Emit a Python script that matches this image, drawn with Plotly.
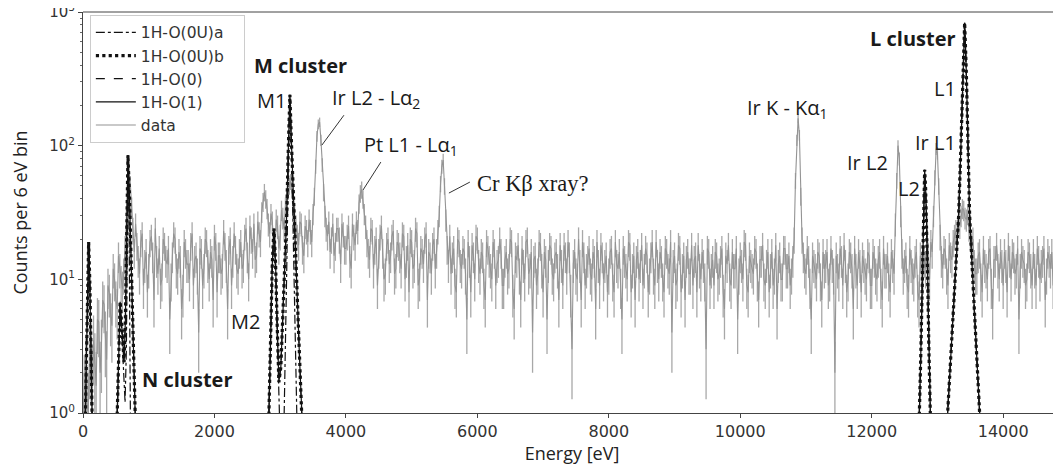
import numpy as np
import plotly.graph_objects as go

# ---------------- data ----------------
# measured spectrum (counts per 6 eV bin), read off the picture on a 20 eV grid:
# data_counts_even at 0, 40, 80, ... 14880 eV; data_counts_odd at 20, 60, ... 14860 eV
energy_step = 40
data_counts_even = [
    1.0, 2.2, 1.0, 2.8, 3.5, 1.6, 4.8, 3.2, 6.5, 2.5, 8.0, 4.5, 10, 6.0, 12, 8.5, 17, 40, 52, 24,
    26, 14, 19, 9, 16, 12, 21, 7, 14, 17, 10, 18, 13, 5, 15, 20, 11, 14, 8, 16,
    13, 18, 9, 15, 4, 16, 12, 19, 10, 14, 21, 8, 15, 12, 18, 6, 20, 14, 17, 11,
    19, 13, 24, 10, 20, 26, 15, 22, 32, 45, 34, 22, 27, 16, 25, 21, 29, 35, 46, 54,
    40, 25, 18, 26, 15, 23, 28, 19, 42, 118, 150, 72, 30, 21, 16, 26, 18, 24, 13, 22,
    17, 25, 12, 21, 27, 37, 47, 31, 19, 14, 23, 17, 9, 21, 16, 11, 20, 15, 23, 12,
    18, 12, 21, 14, 8, 19, 13, 22, 10, 16, 20, 7, 15, 18, 12, 23, 52, 78, 28, 13,
    11, 17, 8, 19, 12, 16, 5, 14, 18, 10, 20, 11, 15, 7, 17, 12, 19, 9, 14, 16,
    9, 16, 12, 19, 6, 14, 11, 17, 10, 20, 12, 4, 15, 11, 18, 8, 14, 13, 17, 10,
    16, 7, 13, 18, 11, 15, 3, 16, 10, 13, 19, 9, 14, 11, 16, 6, 13, 18, 10, 15,
    11, 17, 8, 13, 16, 5, 14, 10, 18, 12, 7, 16, 13, 9, 17, 8, 15, 11, 19, 10,
    14, 8, 16, 11, 4, 15, 10, 17, 12, 7, 16, 11, 9, 15, 18, 10, 13, 3, 16, 12,
    9, 15, 11, 17, 6, 13, 10, 16, 12, 5, 15, 10, 18, 8, 13, 11, 16, 7, 14, 10,
    13, 8, 16, 11, 6, 15, 10, 17, 12, 9, 14, 55, 160, 42, 15, 11, 14, 5, 13, 10,
    15, 7, 12, 16, 10, 13, 2, 12, 17, 9, 13, 10, 15, 6, 12, 16, 8, 13, 10, 15,
    9, 14, 10, 16, 7, 12, 15, 8, 13, 26, 100, 30, 11, 15, 8, 13, 10, 16, 7, 12,
    14, 17, 10, 16, 58, 88, 21, 12, 16, 9, 15, 19, 23, 27, 30, 33, 28, 24, 17, 13,
    11, 16, 8, 13, 10, 17, 6, 14, 12, 16, 9, 13, 18, 10, 15, 12, 5, 16, 13, 10,
    15, 9, 12, 17, 10, 14, 7, 16, 12, 9, 15, 11, 13,
]
data_counts_odd = [
    1.5, 1.2, 3.0, 1.8, 2.4, 5.0, 2.0, 7.0, 3.8, 9.0, 5.5, 12, 7.0, 15, 9.5, 11, 28, 48, 35, 16,
    18, 11, 22, 13, 8, 19, 15, 24, 11, 9, 20, 14, 17, 10, 22, 12, 16, 6, 19, 13,
    10, 22, 14, 11, 17, 9, 20, 13, 16, 7, 18, 15, 11, 23, 13, 17, 9, 22, 12, 16,
    12, 21, 15, 25, 16, 14, 27, 19, 38, 40, 26, 31, 19, 28, 17, 33, 24, 41, 50, 47,
    30, 21, 27, 17, 25, 19, 23, 31, 70, 145, 110, 45, 24, 27, 20, 15, 24, 20, 26, 17,
    21, 14, 26, 18, 23, 44, 40, 25, 16, 24, 12, 20, 16, 25, 10, 18, 13, 21, 11, 19,
    15, 22, 10, 18, 20, 12, 24, 9, 17, 13, 22, 16, 11, 20, 16, 30, 70, 50, 17, 21,
    15, 9, 20, 13, 17, 11, 19, 8, 15, 21, 13, 16, 9, 19, 14, 10, 16, 13, 20, 9,
    14, 11, 20, 8, 15, 18, 7, 13, 19, 11, 16, 14, 9, 19, 12, 16, 5, 18, 11, 15,
    12, 18, 9, 15, 19, 8, 13, 11, 20, 7, 15, 12, 17, 10, 14, 19, 9, 15, 13, 8,
    16, 10, 19, 12, 9, 17, 12, 19, 8, 15, 14, 10, 18, 12, 15, 11, 19, 9, 13, 16,
    10, 17, 12, 19, 13, 9, 18, 8, 15, 14, 11, 18, 14, 8, 12, 16, 10, 17, 9, 14,
    16, 10, 14, 8, 15, 18, 9, 12, 17, 11, 13, 19, 9, 15, 12, 17, 10, 14, 18, 9,
    16, 12, 9, 18, 13, 10, 17, 12, 15, 11, 20, 110, 120, 20, 12, 17, 9, 15, 12, 16,
    10, 16, 13, 9, 17, 11, 15, 10, 14, 18, 8, 16, 12, 17, 9, 13, 15, 11, 16, 9,
    16, 11, 14, 9, 17, 12, 10, 16, 11, 55, 80, 16, 13, 9, 17, 11, 14, 8, 15, 11,
    12, 15, 19, 30, 95, 50, 14, 17, 11, 18, 14, 21, 19, 25, 34, 29, 31, 21, 20, 11,
    15, 10, 17, 12, 16, 9, 14, 18, 10, 13, 16, 8, 14, 16, 11, 17, 12, 14, 9, 16,
    12, 16, 9, 14, 13, 17, 11, 14, 16, 10, 13, 15,
]

# model fits (N, M, L clusters); None separates the peaks
model_b_energy = [25, 45, 65, 86, 105, 125, 145, None,
                  505, 520, 540, 565, 590, 625, 645, 665, 684, 705, 730, 760, 790, 810, None,
                  2815, 2830, 2855, 2880, 2905, 2930, 2955, 2980, 3010, 3040, 3070, 3100, 3125, 3148, 3170, 3210, 3240, 3270, 3300, 3330, 3350, None,
                  12700, 12725, 12745, 12765, 12780, 12795, 12806, 12820, 12835, 12852, 12870, 12885, 12905, None,
                  13130, 13156, 13200, 13247, 13290, 13323, 13360, 13390, 13414, 13440, 13465, 13490, 13530, 13566, 13610, 13642, 13665]
model_b_counts = [0.5, 2, 9, 19, 9, 2.5, 0.6, None,
                  0.5, 1, 3.5, 6.8, 4.5, 2.4, 5, 30, 85, 45, 14, 3.5, 1, 0.5, None,
                  0.5, 1, 4.5, 13, 24, 13, 4.5, 1.7, 2.2, 5.6, 15, 31, 100, 240, 110, 31, 13, 5.6, 2.2, 1, 0.5, None,
                  0.5, 1, 2.5, 8, 20, 45, 66, 48, 28, 10, 3, 1, 0.5, None,
                  0.6, 1, 2.2, 5.4, 13, 30, 110, 350, 830, 350, 110, 30, 12, 5.4, 2.2, 1, 0.6]

model_0_energy = model_b_energy
model_0_counts = [0.5, 2, 9, 19, 9, 2.5, 0.6, None,
                  0.5, 1, 3.4, 6.6, 4.4, 2.4, 5, 29, 84, 44, 14, 3.5, 1, 0.5, None,
                  0.5, 1, 4.4, 13, 23, 13, 4.4, 1.7, 2.2, 5.5, 15, 31, 98, 238, 108, 31, 13, 5.5, 2.2, 1, 0.5, None,
                  0.5, 1, 2.5, 8, 20, 45, 65, 48, 28, 10, 3, 1, 0.5, None,
                  0.6, 1, 2.2, 5.4, 13, 30, 110, 345, 825, 345, 110, 30, 12, 5.4, 2.2, 1, 0.6]

model_1_energy = model_b_energy
model_1_counts = [0.5, 2, 9, 19, 9, 2.5, 0.6, None,
                  0.5, 1, 3.5, 6.8, 4.5, 2.4, 5, 30, 85, 45, 14, 3.5, 1, 0.5, None,
                  0.5, 1, 4.5, 13, 24, 13, 4.5, 1.7, 2.2, 5.6, 15, 31, 100, 240, 110, 31, 13, 5.6, 2.2, 1, 0.5, None,
                  0.5, 1, 2.5, 8, 20, 45, 66, 48, 28, 10, 3, 1, 0.5, None,
                  0.6, 1, 2.2, 5.4, 13, 30, 110, 350, 830, 350, 110, 30, 12, 5.4, 2.2, 1, 0.6]

model_a_energy = [25, 45, 65, 86, 105, 125, 145, None,
                  505, 520, 540, 565, 590, 615, 640, 660, 672, 684, 700, 712, 725, None,
                  2815, 2830, 2855, 2880, 2905, 2930, 2955, 2980, 3005, 3050, 3075, 3100, 3125, 3148, 3175, 3210, 3240, 3265, None,
                  12700, 12725, 12745, 12765, 12780, 12795, 12806, 12820, 12835, 12852, 12870, 12885, 12905, None,
                  13130, 13156, 13200, 13247, 13290, 13323, 13360, 13390, 13414, 13440, 13465, 13490, 13530, 13566, 13610, 13642, 13665]
model_a_counts = [0.5, 2, 9, 19, 9, 2.5, 0.6, None,
                  0.5, 1, 3.3, 6.4, 4.0, 2.2, 1.2, 3, 30, 85, 30, 3, 0.5, None,
                  0.5, 1, 4.4, 13, 23, 12, 4, 1.3, 0.5, 0.5, 2, 12, 80, 240, 80, 12, 2, 0.5, None,
                  0.5, 1, 2.5, 8, 20, 45, 66, 48, 28, 10, 3, 1, 0.5, None,
                  0.6, 1, 2.2, 5.4, 13, 30, 110, 350, 830, 350, 110, 30, 12, 5.4, 2.2, 1, 0.6]

y_tick_vals = [1, 10, 100, 1000]
y_tick_text = ["10<sup>0</sup>", "10<sup>1</sup>", "10<sup>2</sup>", "10<sup>3</sup>"]
y_minor_vals = [2, 3, 4, 5, 6, 7, 8, 9, 20, 30, 40, 50, 60, 70, 80, 90, 200, 300, 400, 500, 600, 700, 800, 900]
x_tick_vals = [0, 2000, 4000, 6000, 8000, 10000, 12000, 14000]
x_tick_text = ["0", "2000", "4000", "6000", "8000", "10000", "12000", "14000"]

# ---------------- combine the two read-off grids into one series ----------------
data_energy, data_counts = [], []
for i, c in enumerate(data_counts_even):
    data_energy.append(i * energy_step)
    data_counts.append(c)
    if i < len(data_counts_odd):
        data_energy.append(i * energy_step + energy_step // 2)
        data_counts.append(data_counts_odd[i])

# ---------------- figure ----------------
fig = go.Figure()

pad = "\u00a0\u00a0\u00a0"
data_err = np.sqrt(np.array(data_counts, dtype=float))
fig.add_trace(go.Scatter(
    x=data_energy, y=data_counts, mode="lines", name="data" + pad, legendrank=5, legendgroup="g5",
    line=dict(color="rgb(148,148,148)", width=1.1),
    error_y=dict(type="data", array=data_err, visible=True, color="rgb(168,168,168)", thickness=1.3, width=0),
))

black = "#111111"
fig.add_trace(go.Scatter(x=model_1_energy, y=model_1_counts, mode="lines", name="1H-O(1)" + pad, legendrank=4,
                         legendgroup="g4", line=dict(color=black, width=1.2, dash="solid")))
fig.add_trace(go.Scatter(x=model_0_energy, y=model_0_counts, mode="lines", name="1H-O(0)" + pad, legendrank=3,
                         legendgroup="g3", line=dict(color=black, width=1.2, dash="dash")))
fig.add_trace(go.Scatter(x=model_a_energy, y=model_a_counts, mode="lines", name="1H-O(0U)a" + pad, legendrank=1,
                         legendgroup="g1", line=dict(color=black, width=1.2, dash="dashdot")))
fig.add_trace(go.Scatter(x=model_b_energy, y=model_b_counts, mode="lines", name="1H-O(0U)b" + pad, legendrank=2,
                         legendgroup="g2", line=dict(color=black, width=3.2, dash="dot")))

sans = "Open Sans"
ann = []


def add_text(text, x, ylog, xanchor="left", size=20, bold=False, family=sans):
    ann.append(dict(x=x, y=ylog, xref="x", yref="y", text=("<b>%s</b>" % text) if bold else text,
                    showarrow=False, xanchor=xanchor, yanchor="middle",
                    font=dict(family=family, size=size, color="#1a1a1a")))


add_text("M cluster", 2570, 2.603, "left", 20, True)
add_text("M1", 3118, 2.341, "right")
add_text("Ir L2 - Lα<sub>2</sub>", 3757, 2.35, "left")
add_text("Pt L1 - Lα<sub>1</sub>", 4243, 2.005, "left")
add_text("Cr Kβ xray?", 5962, 1.72, "left", 22.5, False, "Liberation Serif")
add_text("M2", 2722, 0.681, "right")
add_text("N cluster", 867, 0.247, "left", 20, True)
add_text("Ir K - Kα<sub>1</sub>", 10068, 2.275, "left")
add_text("Ir L2", 12274, 1.877, "right")
add_text("L2", 12760, 1.683, "right")
add_text("Ir L1", 13308, 2.027, "right")
add_text("L1", 13308, 2.431, "right")
add_text("L cluster", 13308, 2.805, "right", 20, True)

# leader lines (data coordinates)
leaders = [((3970, 169), (3635, 101)), ((4532, 75.4), (4259, 46.5)), ((5886, 53.4), (5567, 44.2))]
shapes = []
for (xa, ya), (xb, yb) in leaders:
    shapes.append(dict(type="line", xref="x", yref="y", x0=xa, y0=ya, x1=xb, y1=yb,
                       line=dict(color="#333333", width=1)))
# top frame line
shapes.append(dict(type="line", xref="paper", yref="paper", x0=0, x1=1, y0=1, y1=1,
                   line=dict(color="#444444", width=1)))

# the page body adds an 8 px offset; the figure is sized so the plot area lands where the reference has it
fig.update_layout(
    width=1053, height=464,
    margin=dict(l=75, r=0, t=4, b=59, autoexpand=False),
    paper_bgcolor="white", plot_bgcolor="white",
    showlegend=True,
    legend=dict(x=0.007, y=0.993, xanchor="left", yanchor="top",
                bgcolor="rgba(255,255,255,0.9)", bordercolor="#cccccc", borderwidth=1,
                font=dict(family="DejaVu Sans", size=15.5, color="#333333"),
                tracegroupgap=0, itemwidth=40, traceorder="grouped"),
    annotations=ann,
    shapes=shapes,
)

fig.update_xaxes(
    range=[0, 14880], tickvals=x_tick_vals, ticktext=x_tick_text, ticks="outside", ticklen=4, tickcolor="#444",
    showline=True, linecolor="#444444", linewidth=1, mirror=False, showgrid=False, zeroline=False,
    automargin=False, ticklabeloverflow="allow",
    tickfont=dict(family="DejaVu Sans", size=16, color="#333333"),
    title=dict(text="Energy [eV]", font=dict(family=sans, size=18, color="#222222"), standoff=2),
)
fig.update_yaxes(
    type="log", range=[0, 3], tickvals=y_tick_vals, ticktext=y_tick_text,
    ticks="outside", ticklen=4, tickcolor="#444",
    minor=dict(tickvals=y_minor_vals, ticks="outside", ticklen=2, tickcolor="#666", showgrid=False),
    showline=True, linecolor="#444444", linewidth=1, mirror=False, showgrid=False, zeroline=False,
    automargin=False, ticklabeloverflow="allow",
    tickfont=dict(family="DejaVu Sans", size=15, color="#333333"),
    title=dict(text="Counts per 6 eV bin", font=dict(family=sans, size=18, color="#222222"), standoff=16),
)

# let the top tick label (10^3) spill into the page margin instead of being clipped by the svg edge
post = "document.querySelectorAll('svg.main-svg').forEach(function(s){s.style.overflow='visible';});"
fig.write_html("out.html", post_script=post)
